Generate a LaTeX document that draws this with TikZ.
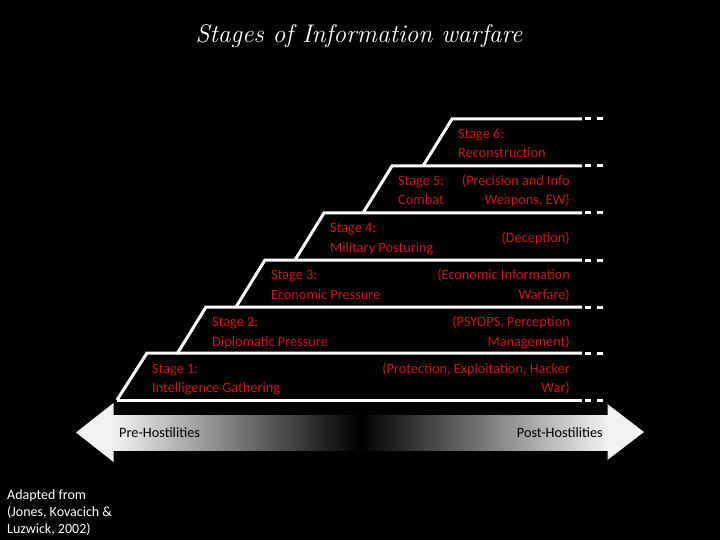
\documentclass[tikz,border=0pt]{standalone}
\usepackage{fontspec}
\setmainfont{Carlito}
\definecolor{stagered}{RGB}{205,22,22}
\tikzset{
  stair/.style={draw=white, line width=3pt, line cap=butt},
  tick/.style={draw=white, line width=3pt},
  lbl/.style={text=stagered, font=\fontsize{14.3}{16}\selectfont, inner sep=0pt, anchor=base west},
  rlbl/.style={text=stagered, font=\fontsize{14.3}{16}\selectfont, inner sep=0pt, anchor=base east},
}
\begin{document}
\begin{tikzpicture}[x=1pt,y=-1pt]
\useasboundingbox[fill=black] (0,0) rectangle (720,540);
% title
\node[text=white, font=\itshape\fontsize{25.5}{30}\selectfont, inner sep=0pt] (title) at (359,36) {\setmainfont{Latin Modern Roman}\itshape Stages of Information warfare};
% stair lines
\foreach \y/\xl/\xs in {119/452/423, 166/392/363, 213/324/295, 260/265/236, 307/206/177, 353/147/117}{
  \coordinate (t\y) at (\xl,\y);
  \coordinate (s\y) at (\xs,\y+47);
  \draw[stair] (582,\y) -- (t\y) -- (s\y);
  \draw[tick] (585,\y) -- (591,\y) (597,\y) -- (603,\y);
}
\draw[stair] (582,400) -- (117,400);
\draw[tick] (585,400) -- (591,400) (597,400) -- (603,400);
% stage labels
\node[lbl] (s6a) at (458,139) {Stage 6:};
\node[lbl] (s6b) at (458,158) {Reconstruction};
\node[lbl] (s5a) at (398,186) {Stage 5:};
\node[lbl] (s5b) at (398,205) {Combat};
\node[lbl] (s4a) at (330,233) {Stage 4:};
\node[lbl] (s4b) at (330,252) {Military Posturing};
\node[lbl] (s3a) at (271,279) {Stage 3:};
\node[lbl] (s3b) at (271,299) {Economic Pressure};
\node[lbl] (s2a) at (212,326) {Stage 2:};
\node[lbl] (s2b) at (212,346) {Diplomatic Pressure};
\node[lbl] (s1a) at (152,373) {Stage 1:};
\node[lbl] (s1b) at (152,392) {Intelligence Gathering};
% right labels
\node[rlbl] (r5a) at (570,186) {(Precision and Info};
\node[rlbl] (r5b) at (570,205) {Weapons, EW)};
\node[rlbl] (r4) at (570,242) {(Deception)};
\node[rlbl] (r3a) at (570,279) {(Economic Information};
\node[rlbl] (r3b) at (570,299) {Warfare)};
\node[rlbl] (r2a) at (570,326) {(PSYOPS, Perception};
\node[rlbl] (r2b) at (570,346) {Management)};
\node[rlbl] (r1a) at (570,373) {(Protection, Exploitation, Hacker};
\node[rlbl] (r1b) at (570,392) {War)};
% timeline arrow
\shade[left color=white!95!black, right color=black] (113,415) rectangle (360,450);
\shade[left color=black, right color=white!95!black] (360,415) rectangle (608,450);
\fill[white!95!black] (113.5,403) -- (76,432.5) -- (113.5,462) -- cycle;
\fill[white!95!black] (607.5,404) -- (644,432) -- (607.5,460) -- cycle;
\node[text=black, font=\fontsize{14.3}{16}\selectfont, inner sep=0pt, anchor=base west] (pre) at (119,437) {Pre-Hostilities};
\node[text=black, font=\fontsize{14.3}{16}\selectfont, inner sep=0pt, anchor=base east] (post) at (603,437) {Post-Hostilities};
% source
\node[text=white, font=\fontsize{14}{16.7}\selectfont, inner sep=0pt, anchor=north west, align=left] (src) at (7,490) {Adapted from\\(Jones, Kovacich \&\\Luzwick, 2002)};
\end{tikzpicture}
\end{document}
